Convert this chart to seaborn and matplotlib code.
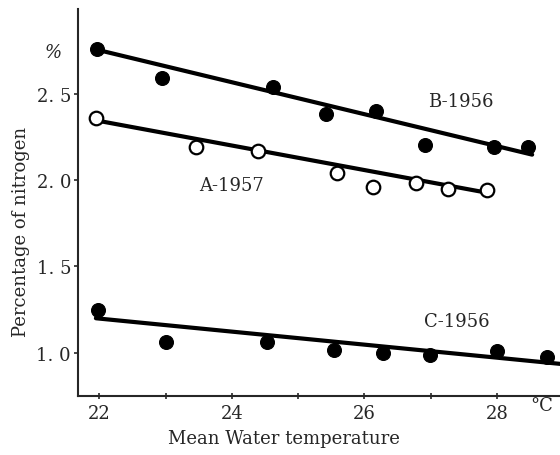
import matplotlib
matplotlib.use("Agg")
import matplotlib.pyplot as plt
from matplotlib.ticker import MultipleLocator
import seaborn as sns

# Observed nitrogen content (%) against mean water temperature (°C)
b1956_temp = [21.97, 22.95, 24.62, 25.42, 26.18, 26.92, 27.96, 28.46]
b1956_n = [2.76, 2.59, 2.54, 2.385, 2.40, 2.20, 2.19, 2.19]

a1957_temp = [21.95, 23.46, 24.40, 25.59, 26.13, 26.78, 27.26, 27.85]
a1957_n = [2.36, 2.19, 2.17, 2.04, 1.96, 1.98, 1.95, 1.945]

c1956_temp = [21.98, 23.00, 24.53, 25.54, 26.28, 26.99, 28.00, 28.76]
c1956_n = [1.25, 1.06, 1.064, 1.017, 1.00, 0.99, 1.01, 0.977]

# Fitted straight lines (end points)
b_fit_temp = [21.97, 28.53]
b_fit_n = [2.754, 2.147]
a_fit_temp = [21.97, 27.80]
a_fit_n = [2.344, 1.930]
c_fit_temp = [21.95, 28.95]
c_fit_n = [1.20, 0.936]

y_ticks = [1.0, 1.5, 2.0, 2.5]
x_ticks = [22, 24, 26, 28]

sns.set_style("ticks")
plt.rcParams["font.family"] = ["DejaVu Serif"]

fig = plt.figure(figsize=(5.6, 4.56), dpi=100)
ax = fig.add_axes([78 / 560, 1 - 397 / 456, 1 - 78 / 560, (397 - 10) / 456])

for tx, ny in [(b_fit_temp, b_fit_n), (a_fit_temp, a_fit_n), (c_fit_temp, c_fit_n)]:
    sns.lineplot(x=tx, y=ny, ax=ax, color="black", linewidth=3.0, zorder=2)

sns.scatterplot(x=b1956_temp, y=b1956_n, ax=ax, s=100, color="black",
                edgecolor="black", zorder=3)
sns.scatterplot(x=c1956_temp, y=c1956_n, ax=ax, s=100, color="black",
                edgecolor="black", zorder=3)
sns.scatterplot(x=a1957_temp, y=a1957_n, ax=ax, s=95, color="white",
                edgecolor="black", linewidth=1.6, zorder=3)

ax.set_xlim(21.68, 28.95)
ax.set_ylim(0.75, 2.99)
ax.set_xticks(x_ticks)
ax.set_xticklabels([str(t) for t in x_ticks])
ax.xaxis.set_minor_locator(MultipleLocator(1))
ax.set_yticks(y_ticks)
ax.set_yticklabels([f"{t:.1f}".replace(".", ". ") for t in y_ticks])

sns.despine(ax=ax, top=True, right=True)
for side in ("left", "bottom"):
    ax.spines[side].set_linewidth(1.5)
ax.tick_params(axis="y", direction="out", length=3, width=1.2, labelsize=13, pad=2)
ax.tick_params(axis="x", which="both", direction="inout", length=5, width=1.2,
               labelsize=13, pad=3)

ax.text(21.30, 2.74, "%", fontsize=13, style="italic", ha="center", va="center")
ax.text(28.68, 0.70, "°C", fontsize=13, ha="center", va="center")

ax.text(27.45, 2.455, "B-1956", fontsize=13, ha="center", va="center")
ax.text(24.00, 1.97, "A-1957", fontsize=13, ha="center", va="center")
ax.text(27.40, 1.185, "C-1956", fontsize=13, ha="center", va="center")

ax.set_xlabel("Mean Water temperature", fontsize=13)
ax.set_ylabel("Percentage of nitrogen", fontsize=13)
ax.xaxis.set_label_coords(0.427, -0.085)
ax.yaxis.set_label_coords(-0.10, 0.426)

fig.savefig("out.png", dpi=100)
